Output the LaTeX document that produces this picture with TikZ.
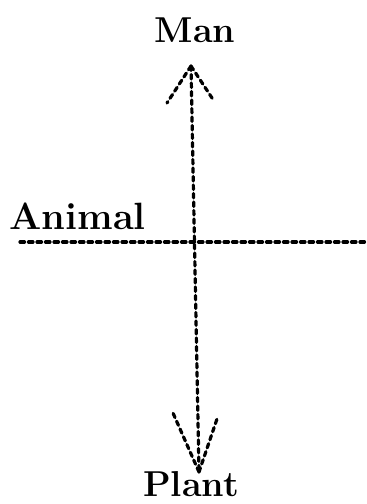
\documentclass[tikz,border=0pt]{standalone}
\usetikzlibrary{arrows.meta}
\tikzset{
  lbl/.style={font=\fontsize{36}{38}\selectfont\bfseries, inner sep=0pt},
  dline/.style={line width=3.2pt, dash pattern=on 4.5pt off 4pt, line cap=round},
  arrowwing/.style={line width=3.2pt, dash pattern=on 4.5pt off 4pt, line cap=round}
}
\begin{document}
\begin{tikzpicture}[x=1pt,y=-1pt]
\useasboundingbox (0,0) rectangle (367,504);
\node[lbl,anchor=base] (man) at (195,42) {Man};
\node[lbl,anchor=base east,font=\fontsize{38}{40}\selectfont\bfseries] (animal) at (146,229) {Animal};
\node[lbl,anchor=base] (plant) at (191,496) {Plant};
\coordinate (top) at (191,66);
\coordinate (bot) at (199,472);
\coordinate (left) at (20,242);
\coordinate (right) at (367,242);
\draw[dline] (top) -- (bot);
\draw[dline] (left) -- (right);
\draw[arrowwing] (top) -- (167,103);
\draw[arrowwing] (top) -- (214,101);
\draw[arrowwing] (bot) -- (173,413);
\draw[arrowwing] (bot) -- (218,416);
\end{tikzpicture}
\end{document}
